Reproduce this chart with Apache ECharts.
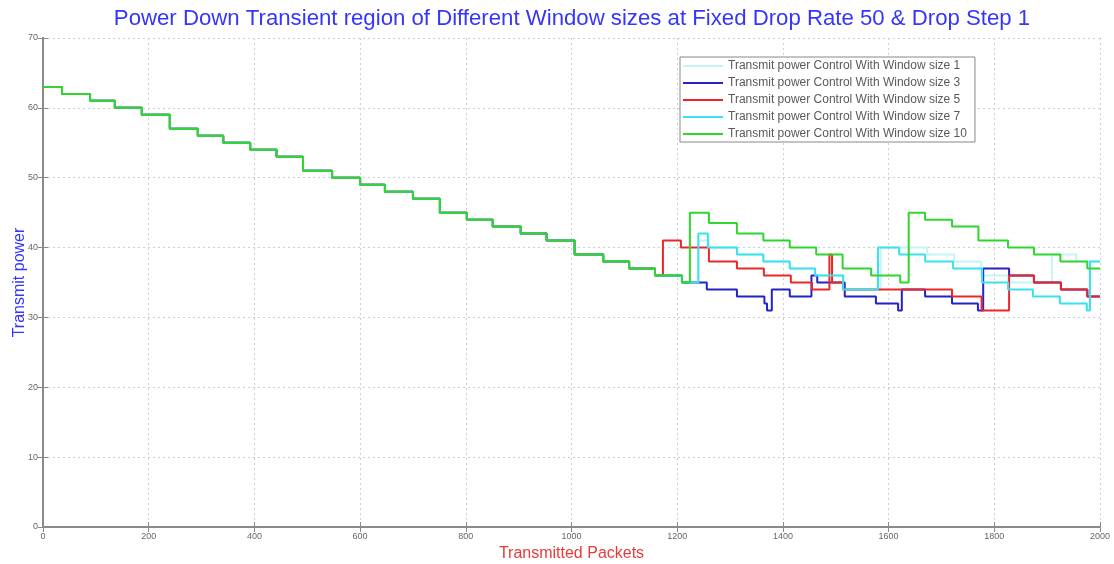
<!DOCTYPE html>
<html>
<head>
<meta charset="utf-8">
<script src="https://cdn.jsdelivr.net/npm/echarts@6/dist/echarts.min.js"></script>
<style>
html,body{margin:0;padding:0;background:#fff;}
#chart{width:1114px;height:564px;}
</style>
</head>
<body>
<div id="chart"></div>
<script>
// Shared staircase (all window sizes coincide here)
const commonX = [0,36,89,136,187,240,293,341,392,442,492,547,600,647,700,751,802,851,904,953,1006,1060,1109,1158];
const commonY = [63,62,61,60,59,57,56,55,54,53,51,50,49,48,47,45,44,43,42,41,39,38,37,36];

// Window size 1
const w1X = [1209,1240,1260,1313,1363,1413,1461,1514,1585,1673,1724,1775,1826,1909,1955,2000];
const w1Y = [35,41,40,39,38,37,36,34,40,39,38,36,35,39,38,38];
// Window size 3
const w3X = [1209,1256,1313,1365,1370,1379,1413,1454,1465,1517,1576,1618,1625,1669,1720,1769,1779,1828,1875,1926,1976,2000];
const w3Y = [35,34,33,32,31,34,33,36,35,33,32,31,34,33,32,31,37,36,35,34,33,33];
// Window size 5
const w5X = [1173,1207,1260,1313,1364,1415,1455,1488,1493,1514,1720,1776,1828,1875,1926,1976,2000];
const w5Y = [41,40,38,37,36,35,34,39,35,34,33,31,36,35,34,33,33];
// Window size 7
const w7X = [1209,1240,1258,1313,1363,1413,1461,1514,1580,1620,1669,1722,1777,1826,1873,1924,1975,1981,2000];
const w7Y = [35,42,40,39,38,37,36,34,40,39,38,37,35,34,33,32,31,38,38];
// Window size 10
const w10X = [1209,1224,1260,1313,1363,1413,1463,1513,1567,1622,1638,1669,1720,1770,1826,1875,1925,1976,2000];
const w10Y = [35,45,43.5,42,41,40,39,37,36,35,45,44,43,41,40,39,38,37,37];

const seriesNames = [
  'Transmit power Control With Window size 1',
  'Transmit power Control With Window size 3',
  'Transmit power Control With Window size 5',
  'Transmit power Control With Window size 7',
  'Transmit power Control With Window size 10'
];
const seriesColors = ['#c6f4f6','#2323c8','#e82828','#38e2ee','#2ed62e'];

function build(tx, ty) {
  const pts = commonX.map((x, i) => [x, commonY[i]]);
  return pts.concat(tx.map((x, i) => [x, ty[i]]));
}
const tails = [[w1X,w1Y],[w3X,w3Y],[w5X,w5Y],[w7X,w7Y],[w10X,w10Y]];

const chart = echarts.init(document.getElementById('chart'), null, {renderer:'canvas'});
const axisGray = '#8a8a8a';
const font = 'Liberation Sans, Arial, sans-serif';
const option = {
  animation: false,
  backgroundColor: '#fff',
  title: {
    text: 'Power Down Transient region of Different Window sizes at Fixed Drop Rate 50 & Drop Step 1',
    left: 567, textAlign: 'center', top: 3,
    textStyle: {color:'#3535ff', fontSize:22.2, fontWeight:'normal', fontFamily:font}
  },
  grid: {left:43, right:14, top:38, bottom:37, containLabel:false, outerBoundsMode:'none'},
  legend: {
    orient:'vertical', left:680, top:57,
    padding:[3,8,2,3],
    backgroundColor:'#fff', borderColor:'#888', borderWidth:1,
    itemWidth:40, itemHeight:2, itemGap:5, icon:'rect',
    textStyle:{fontSize:12, color:'#5a5a5a', fontFamily:font, lineHeight:12},
    data: seriesNames
  },
  xAxis: [{
    type:'value', min:0, max:2000, interval:200, position:'bottom',
    name:'Transmitted Packets', nameLocation:'middle', nameGap:15,
    nameTextStyle:{color:'#e83a3a', fontSize:16, fontFamily:font},
    axisLine:{show:true, lineStyle:{color:axisGray, width:2}},
    axisTick:{show:true, inside:true, length:5, lineStyle:{color:axisGray}},
    axisLabel:{color:'#666', fontSize:9, margin:5, fontFamily:font, formatter: v => String(v)},
    splitLine:{show:true, lineStyle:{color:'#cfcfcf', type:[2,3], width:1}}
  },{
    type:'value', min:0, max:2000, interval:200, position:'top',
    axisLine:{show:true, lineStyle:{color:axisGray, width:1.5}},
    axisTick:{show:true, inside:true, length:5, lineStyle:{color:axisGray}},
    axisLabel:{show:false}, splitLine:{show:false}
  }],
  yAxis: [{
    type:'value', min:0, max:70, interval:10, position:'left',
    name:'Transmit power', nameLocation:'middle', nameGap:15, nameMoveOverlap:false,
    nameTextStyle:{color:'#3535ff', fontSize:16, fontFamily:font},
    axisLine:{show:true, lineStyle:{color:axisGray, width:2}},
    axisTick:{show:true, inside:true, length:5, lineStyle:{color:axisGray}},
    axisLabel:{color:'#666', fontSize:9, margin:5, fontFamily:font, formatter: v => String(v)},
    splitLine:{show:true, lineStyle:{color:'#cfcfcf', type:[2,3], width:1}}
  },{
    type:'value', min:0, max:70, interval:10, position:'right',
    axisLine:{show:true, lineStyle:{color:axisGray, width:2}},
    axisTick:{show:true, inside:true, length:5, lineStyle:{color:axisGray}},
    axisLabel:{show:false}, splitLine:{show:false}
  }],
  series: tails.map((t, i) => ({
    name: seriesNames[i],
    type:'line', step:'end', showSymbol:false, symbol:'none',
    xAxisIndex:0, yAxisIndex:0,
    data: build(t[0], t[1]),
    lineStyle:{color:seriesColors[i], width:2},
    itemStyle:{color:seriesColors[i]},
    emphasis:{disabled:true}
  }))
};
chart.setOption(option);
</script>
</body>
</html>
